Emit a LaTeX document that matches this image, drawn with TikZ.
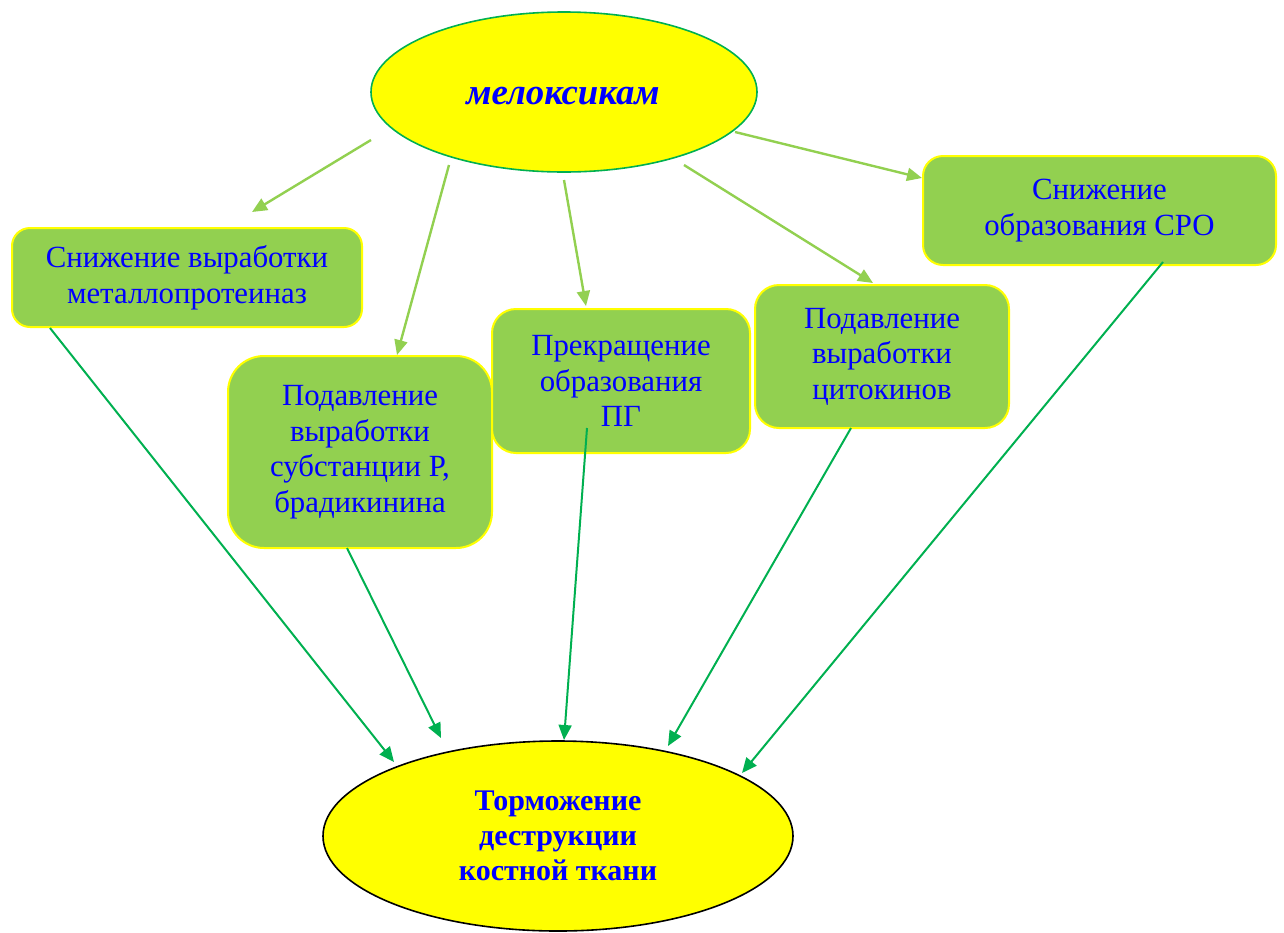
\documentclass[tikz,border=0pt]{standalone}
\usepackage{fontspec}
\setmainfont{Liberation Serif}
\usetikzlibrary{shapes.geometric,arrows.meta}
\definecolor{boxgreen}{HTML}{92D050}
\definecolor{darkgreen}{HTML}{00B050}
\definecolor{yel}{HTML}{FFFF00}
\definecolor{txtblue}{HTML}{0000FF}
\tikzset{
  effbox/.style={draw=yel, line width=1pt, fill=boxgreen, rounded corners=#1,
    text=txtblue, align=center, inner sep=0pt,
    font=\fontsize{15.4}{17.8}\selectfont},
  effbox/.default=10pt,
  topell/.style={ellipse, draw=darkgreen, line width=0.8pt, fill=yel, inner sep=0pt,
    minimum width=193pt, minimum height=80pt, text=txtblue,
    font=\fontsize{18.4}{22}\selectfont\bfseries\itshape},
  botell/.style={ellipse, draw=black, line width=0.8pt, fill=yel, inner sep=0pt,
    minimum width=235pt, minimum height=95pt, text=txtblue, align=center,
    font=\fontsize{15}{17.5}\selectfont\bfseries},
  lightarr/.style={draw=boxgreen, line width=1.2pt,
    -{Triangle[length=7.5pt,width=6.5pt]}},
  darkarr/.style={draw=darkgreen, line width=1pt,
    -{Triangle[length=7.5pt,width=6.5pt]}},
}
\begin{document}
\begin{tikzpicture}[x=0.5pt,y=-0.5pt]
\useasboundingbox (0,0) rectangle (1284,932);
% top ellipse
\node[topell] (mel) at (564,92) {};
\node[text=txtblue, font=\fontsize{18.4}{22}\selectfont\bfseries\itshape, inner sep=0pt]
  (meltxt) at (563,96) {мелоксикам};
% boxes
\node[effbox=9pt, minimum width=175pt, minimum height=49.5pt] (b1) at (187,277.5)
  {Снижение выработки\\металлопротеиназ};
\node[effbox=18pt, minimum width=132pt, minimum height=96pt] (b2) at (360,452)
  {Подавление\\выработки\\субстанции Р,\\брадикинина};
\node[effbox=12pt, minimum width=129pt, minimum height=72pt] (b3) at (621,381)
  {Прекращение\\образования\\ПГ};
\node[effbox=12pt, minimum width=127pt, minimum height=71.5pt] (b4) at (882,356.5)
  {Подавление\\выработки\\цитокинов};
\node[effbox=10pt, minimum width=176.5pt, minimum height=54.5pt] (b5) at (1099.5,210.5)
  {Снижение\\образования СРО};
% bottom ellipse
\node[botell] (res) at (558,836) {Торможение\\деструкции\\костной ткани};
% arrow end points
\coordinate (a1s) at (371,140); \coordinate (a1e) at (252,212);
\coordinate (a2s) at (449,165); \coordinate (a2e) at (397,355);
\coordinate (a3s) at (564,180); \coordinate (a3e) at (586,306);
\coordinate (a4s) at (684,165); \coordinate (a4e) at (873,283);
\coordinate (a5s) at (735,132); \coordinate (a5e) at (922,178);
\coordinate (d1s) at (50,328);  \coordinate (d1e) at (394,762);
\coordinate (d2s) at (347,548); \coordinate (d2e) at (441,738);
\coordinate (d3s) at (587,428); \coordinate (d3e) at (564,740);
\coordinate (d4s) at (851,428); \coordinate (d4e) at (668,746);
\coordinate (d5s) at (1163,262); \coordinate (d5e) at (742,773);
\draw[lightarr] (a1s) -- (a1e);
\draw[lightarr] (a2s) -- (a2e);
\draw[lightarr] (a3s) -- (a3e);
\draw[lightarr] (a4s) -- (a4e);
\draw[lightarr] (a5s) -- (a5e);
\draw[darkarr] (d1s) -- (d1e);
\draw[darkarr] (d2s) -- (d2e);
\draw[darkarr] (d3s) -- (d3e);
\draw[darkarr] (d4s) -- (d4e);
\draw[darkarr] (d5s) -- (d5e);
\end{tikzpicture}
\end{document}
